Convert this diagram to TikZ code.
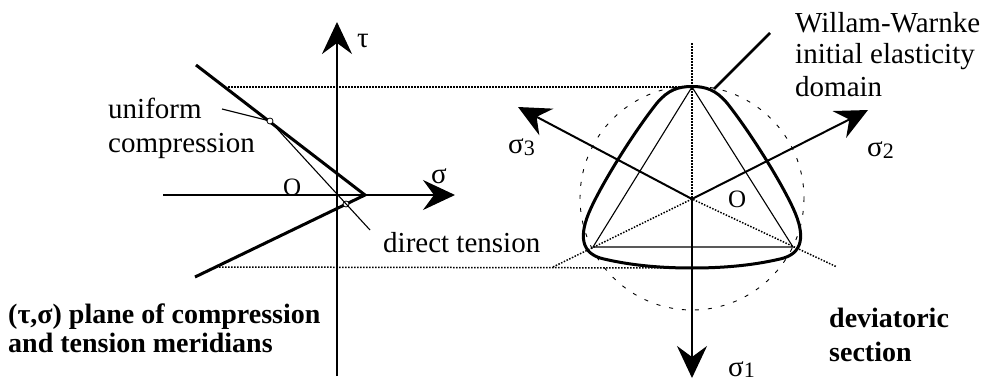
\documentclass[tikz,border=0pt]{standalone}
\usepackage{fontspec}
\setmainfont{Liberation Serif}
\usetikzlibrary{arrows.meta}
\begin{document}
\begin{tikzpicture}[x=1pt,y=-1pt,
  axisarrow/.style={line width=2pt,-{Stealth[length=32pt,width=30pt,inset=11pt]}},
  meridian/.style={line width=3pt},
  thinline/.style={line width=1.1pt},
  dotline/.style={line width=1.5pt,dash pattern=on 1.5pt off 1.5pt},
  marker/.style={circle,draw,fill=white,inner sep=0pt,minimum size=6pt,line width=0.8pt},
  txt/.style={inner sep=0pt,anchor=base west,font=\fontsize{29}{34}\selectfont},
  btxt/.style={inner sep=0pt,anchor=base west,font=\bfseries\fontsize{28}{34}\selectfont},
  olabel/.style={inner sep=0pt,anchor=base west,font=\fontsize{25}{30}\selectfont}]
\useasboundingbox (0,0) rectangle (1002,386);
% ---------- left: meridian plane ----------
\coordinate (O1) at (337,195);
\coordinate (tauB) at (337,376);
\coordinate (tauT) at (337,22);
\coordinate (sigL) at (163,195);
\coordinate (sigR) at (455,195);
\coordinate (apex) at (365,195);
\coordinate (cmS) at (196,65);
\coordinate (tmS) at (195,277);
\coordinate (thinE) at (370,230);
\coordinate (upD) at (228,87);
\coordinate (loD) at (216,267);
\coordinate (ldrU) at (222,109);
\draw[axisarrow] (tauB) -- (tauT);
\draw[axisarrow] (sigL) -- (sigR);
\draw[meridian] (cmS) -- (apex) -- (tmS);
\node[marker] (uc) at (270,121) {};
\node[marker] (dt) at (346,204) {};
\draw[thinline] (uc) -- (thinE);
\draw[thinline] (ldrU) -- (uc);
\node[txt] (tau) at (357,47) {τ};
\node[txt] (sig) at (431,183) {σ};
\node[olabel] (Oa) at (283,195) {O};
\node[txt] (uni1) at (108,118) {uniform};
\node[txt] (uni2) at (108,152) {compression};
\node[txt] (dtl) at (383,252) {direct tension};
\node[btxt] (pl1) at (8,323) {(τ,σ) plane of compression};
\node[btxt] (pl2) at (8,352) {and tension meridians};
% ---------- right: deviatoric section ----------
\coordinate (C) at (692,199);
\coordinate (vT) at (692,87);
\coordinate (vL) at (593,247);
\coordinate (vR) at (793,247);
\coordinate (vbot) at (692,268);
\coordinate (vtop) at (692,43);
\coordinate (dL) at (553,267);
\coordinate (dR) at (837,267);
\draw[dotline] (upD) -- (vT);
\draw[dotline] (loD) -- (vbot);
\draw[line width=0.9pt,dash pattern=on 4pt off 9pt] (692,198) circle[radius=112];
\draw[dotline] (vtop) -- (C);
\draw[dotline] (dL) -- (C) -- (dR);
\draw[thinline] (vT) -- (vL) -- (vR) -- cycle;
\draw[meridian] (692,86.5) .. controls (706,86.5) and (716,90) .. (727,103)
  .. controls (750,132) and (780,180) .. (793,208)
  .. controls (806,236) and (803,254) .. (780,259)
  .. controls (750,266) and (720,268) .. (692,268)
  .. controls (664,268) and (634,266) .. (604,259)
  .. controls (581,254) and (578,236) .. (591,208)
  .. controls (604,180) and (634,132) .. (657,103)
  .. controls (668,90) and (678,86.5) .. (692,86.5) -- cycle;
\coordinate (ww) at (714,89);
\coordinate (wwE) at (770,33);
\draw[line width=2.5pt] (ww) -- (wwE);
\draw[axisarrow] (C) -- (692,378);
\draw[axisarrow] (C) -- (518,107);
\draw[axisarrow] (C) -- (868,110);
\node[txt] (s3) at (508,153) {σ\raisebox{-2pt}{\fontsize{22}{24}\selectfont 3}};
\node[txt] (s2) at (867,156) {σ\raisebox{-2pt}{\fontsize{22}{24}\selectfont 2}};
\node[txt] (s1) at (728,376) {σ\raisebox{-1pt}{\fontsize{22}{24}\selectfont 1}};
\node[olabel] (Ob) at (728,207) {O};
\node[txt] (ww1) at (795,32) {Willam-Warnke};
\node[txt] (ww2) at (795,63) {initial elasticity};
\node[txt] (ww3) at (795,96) {domain};
\node[btxt] (dv1) at (829,327) {deviatoric};
\node[btxt] (dv2) at (829,361) {section};
\end{tikzpicture}
\end{document}
